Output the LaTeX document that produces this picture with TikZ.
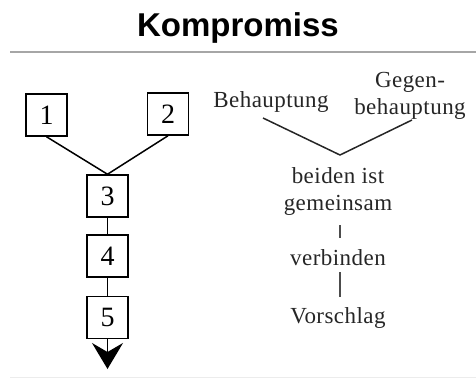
\documentclass[tikz,border=0pt]{standalone}
\usepackage{fontspec}
\setmainfont{Liberation Serif}
\newfontfamily\titlefont{Liberation Sans}
\newfontfamily\bodyfont[LetterSpace=2]{Liberation Serif}
\usetikzlibrary{arrows.meta}
\tikzset{
  numbox/.style={draw, line width=1.5pt, minimum width=41pt, minimum height=42pt, inner sep=0pt, font=\fontsize{28}{28}\selectfont},
  word/.style={inner sep=0pt, text=black!85, font=\bodyfont\fontsize{23}{27}\selectfont, align=center},
  link/.style={line width=1.5pt}
}
\begin{document}
\begin{tikzpicture}[x=1pt,y=-1pt]
\useasboundingbox (0,0) rectangle (476,378);
% title
\node[font=\titlefont\bfseries\fontsize{33}{33}\selectfont] (title) at (238,28) {Kompromiss};
\coordinate (rl) at (10,52);
\coordinate (rr) at (476,52);
\draw[gray!70, line width=1.3pt] (rl) -- (rr);
\coordinate (bl) at (10,377);
\coordinate (br) at (476,377);
\draw[gray!15, line width=1pt] (bl) -- (br);
% left boxes
\node[numbox] (b1) at (46.5,115) {1};
\node[numbox] (b2) at (168,114) {2};
\node[numbox] (b3) at (107.5,196) {3};
\node[numbox] (b4) at (107.5,256) {4};
\node[numbox] (b5) at (107.5,317.5) {5};
\draw[link] (b1.south) -- (b3.north);
\draw[link] (b2.south) -- (b3.north);
\draw[link] (b3) -- (b4);
\draw[link] (b4) -- (b5);
\coordinate (tip) at (107.5,369);
\draw[link, -{Stealth[length=26pt, width=31pt, inset=9pt]}] (b5.south) -- (tip);
% right side
\node[word] (beh) at (271,102) {Behauptung};
\node[word] (geg) at (410,96) {Gegen-\\behauptung};
\coordinate (v) at (340,155);
\coordinate (ba) at (263,118);
\coordinate (gb) at (412,120);
\draw[line width=1.5pt, black!85] (ba) -- (v) -- (gb);
\node[word] (gem) at (338,191) {beiden ist\\gemeinsam};
\node[word] (ver) at (338,258) {verbinden};
\node[word] (vor) at (338,318) {Vorschlag};
\coordinate (g1) at (340,225);
\coordinate (g2) at (340,238);
\draw[line width=1.2pt, black!70] (g1) -- (g2);
\coordinate (v1) at (340,272);
\coordinate (v2) at (340,297);
\draw[line width=1.2pt, black!70] (v1) -- (v2);
\end{tikzpicture}
\end{document}
